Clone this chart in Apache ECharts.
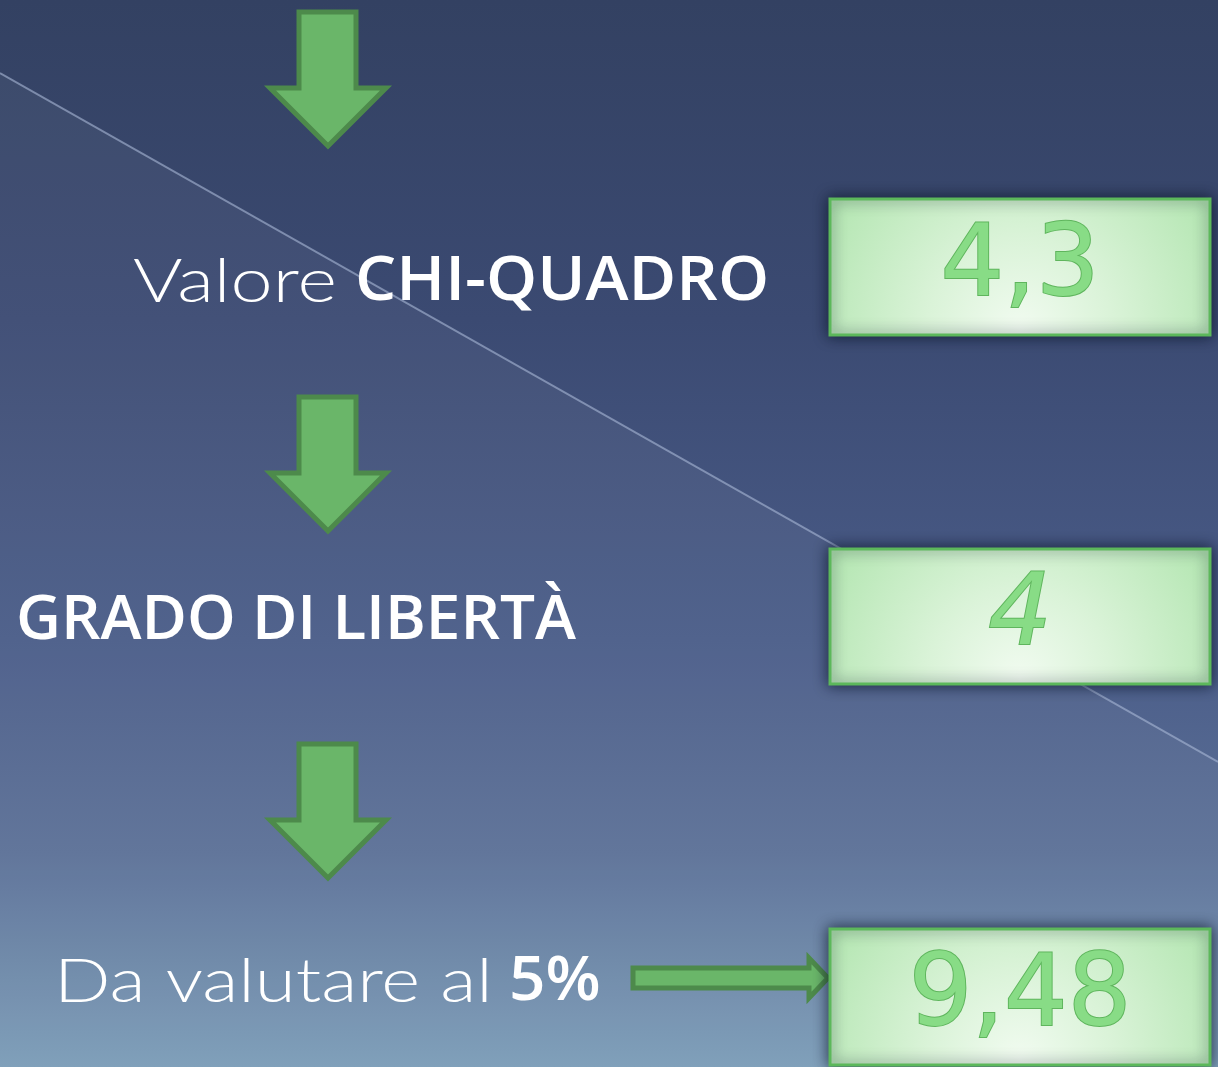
<!DOCTYPE html>
<html><head><meta charset="utf-8">
<script src="https://cdn.jsdelivr.net/npm/echarts@6/dist/echarts.min.js"></script>
<style>html,body{margin:0;padding:0;background:#33415f}#c{width:1218px;height:1067px}</style>
</head><body><div id="c"></div>
<script>
// Step labels (left column)
const stepLight = ["Valore", "", "Da valutare al"];
const stepBold = ["CHI-QUADRO", "GRADO DI LIBERTÀ", "5%"];
// Values shown in the green boxes
const boxValues = ["4,3", "4", "9,48"];

const chart = echarts.init(document.getElementById('c'), null, {renderer: 'canvas'});

const W = 1218, H = 1067;
const arrowFill = '#6ab669', arrowStroke = '#4d8a4b';

function downArrow(top) {
  return {
    type: 'polygon',
    shape: { points: [[299, top], [356, top], [356, top + 76], [386, top + 76], [328, top + 134], [270, top + 76], [299, top + 76]] },
    style: { fill: arrowFill, stroke: arrowStroke, lineWidth: 5, lineJoin: 'miter' }
  };
}

function box(y, h, val, italic) {
  return [
    {
      type: 'rect',
      shape: { x: 830, y: y, width: 380, height: h },
      style: {
        fill: new echarts.graphic.RadialGradient(0.5, 0.95, 1.9, [
          { offset: 0, color: '#f1fbf0' },
          { offset: 0.35, color: '#daf3d8' },
          { offset: 1, color: '#a8e2a6' }
        ]),
        stroke: '#5cb85b', lineWidth: 3,
        shadowBlur: 14, shadowColor: 'rgba(10,20,40,0.75)'
      }
    },
    {
      type: 'text',
      x: 1020, y: y + h / 2 + 2,
      style: {
        text: val,
        font: (italic ? 'italic ' : '') + '400 100px "DejaVu Sans", sans-serif',
        fill: '#88dc86',
        stroke: '#5fb55d', lineWidth: 2,
        align: 'center', verticalAlign: 'middle',
        shadowBlur: 5, shadowColor: 'rgba(40,90,40,0.5)', shadowOffsetX: 2, shadowOffsetY: 3
      }
    }
  ];
}

function thin(x, y, i, sx) {
  return {
    type: 'text', x: x, y: y, scaleX: sx,
    style: { text: stepLight[i], font: '300 62px Lato, sans-serif', fill: '#ffffff', align: 'left', verticalAlign: 'middle' }
  };
}
function bold(x, y, i, sx) {
  return {
    type: 'text', x: x, y: y, scaleX: sx,
    style: { text: stepBold[i], font: '600 62px "Open Sans", sans-serif', fill: '#ffffff', align: 'left', verticalAlign: 'middle' }
  };
}

const elements = [
  { type: 'rect', shape: { x: 0, y: 0, width: W, height: H }, silent: true,
    style: { fill: new echarts.graphic.LinearGradient(0, 0, 0, 1, [
      { offset: 0, color: '#334162' },
      { offset: 0.3, color: '#3b4a72' },
      { offset: 0.6, color: '#4a5c88' },
      { offset: 0.8, color: '#5b7097' },
      { offset: 1, color: '#7b9cb7' }
    ]) } },
  { type: 'polygon', silent: true,
    shape: { points: [[0, 73], [W, 762], [W, H], [0, H]] },
    style: { fill: 'rgba(255,255,255,0.045)' } },
  { type: 'line', silent: true,
    shape: { x1: 0, y1: 73, x2: W, y2: 762 },
    style: { stroke: 'rgba(170,185,215,0.6)', lineWidth: 2 } },
  downArrow(12),
  downArrow(397),
  downArrow(744),
  thin(133, 282, 0, 1.22),
  bold(355, 282, 0, 1.05),
  bold(16, 621, 1, 1.0),
  thin(54, 982, 2, 1.2),
  bold(509, 982, 2, 1.03),
  { type: 'polygon',
    shape: { points: [[633, 968], [809, 968], [809, 958], [828, 978], [809, 998], [809, 988], [633, 988]] },
    style: { fill: arrowFill, stroke: arrowStroke, lineWidth: 5 } }
];
elements.push(...box(199, 136, boxValues[0], false));
elements.push(...box(549, 135, boxValues[1], true));
elements.push(...box(929, 136, boxValues[2], false));

chart.setOption({ animation: false, graphic: { elements: elements } });
</script></body></html>
